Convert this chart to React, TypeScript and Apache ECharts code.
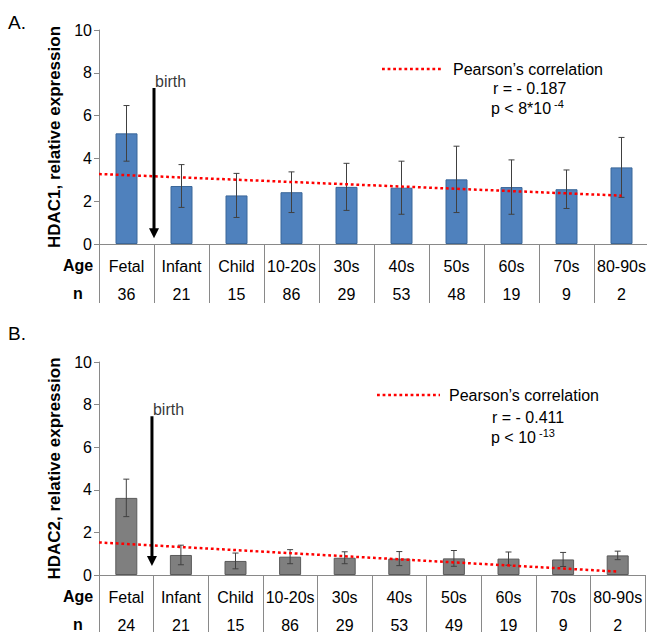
import React, { useEffect, useRef } from "react";
import * as echarts from "echarts";

const categories = ["Fetal", "Infant", "Child", "10-20s", "30s", "40s", "50s", "60s", "70s", "80-90s"];
const hdac1N = [36, 21, 15, 86, 29, 53, 48, 19, 9, 2];
const hdac2N = [24, 21, 15, 86, 29, 53, 49, 19, 9, 2];
const hdac1Mean = [5.17, 2.71, 2.27, 2.42, 2.67, 2.63, 3.02, 2.66, 2.56, 3.58];
const hdac1Err = [1.3, 1.0, 1.03, 0.95, 1.1, 1.24, 1.55, 1.27, 0.9, 1.4];
const hdac2Mean = [3.62, 0.94, 0.66, 0.86, 0.81, 0.77, 0.78, 0.77, 0.73, 0.92];
const hdac2Err = [0.88, 0.46, 0.37, 0.33, 0.28, 0.33, 0.37, 0.31, 0.33, 0.2];
const hdac1Trend = [[0, 3.27], [9.5, 2.26]];
const hdac2Trend = [[0, 1.53], [9.5, 0.16]];
const hdac1Birth = [[1, 7.29], [1, 0.5]];
const hdac2Birth = [[0.97, 7.45], [0.97, 0.66]];
const hdac1BirthLabel = [[1, 7.6]];
const hdac2BirthLabel = [[0.97, 7.75]];
const yMin = 0;
const yMax = 10;
const yInterval = 2;
const legendName = "Pearson\u2019s correlation";

const FONT = "'Liberation Sans', Arial, sans-serif";
const AXIS_GRAY = "#898989";

function errData(mean: number[], err: number[]) {
  return mean.map((m, i) => [i, m - err[i], m + err[i]]);
}

const renderErr = (params: any, api: any) => {
  const x = api.value(0);
  const lo = api.coord([x, api.value(1)]);
  const hi = api.coord([x, api.value(2)]);
  const w = 3;
  const st = { stroke: "#404040", lineWidth: 1 };
  return {
    type: "group",
    children: [
      { type: "line", shape: { x1: hi[0], y1: hi[1], x2: lo[0], y2: lo[1] }, style: st },
      { type: "line", shape: { x1: hi[0] - w, y1: hi[1], x2: hi[0] + w, y2: hi[1] }, style: st },
      { type: "line", shape: { x1: lo[0] - w, y1: lo[1], x2: lo[0] + w, y2: lo[1] }, style: st },
    ],
  };
};

function arrowData(pts: number[][]) {
  return [
    { value: pts[0], symbol: "none" },
    { value: pts[1], symbol: "triangle", symbolSize: [10, 10], symbolRotate: 180 },
  ];
}

function catAxis(gridIndex: number, nArr: number[]) {
  return {
    type: "category",
    gridIndex,
    data: categories,
    axisLine: { show: true, lineStyle: { color: AXIS_GRAY, width: 1 } },
    axisTick: { show: true, interval: 0, length: 59, lineStyle: { color: AXIS_GRAY, width: 1 } },
    axisLabel: {
      interval: 0,
      margin: 8,
      fontSize: 16,
      color: "#000",
      lineHeight: 28,
      fontFamily: FONT,
      formatter: (v: string, idx: number) => `${v}\n${nArr[idx]}`,
    },
    splitLine: { show: false },
  };
}

function valXAxis(gridIndex: number) {
  return { type: "value", gridIndex, min: 0, max: 10, show: false };
}

function yAxis(gridIndex: number, name: string) {
  return {
    type: "value",
    gridIndex,
    min: yMin,
    max: yMax,
    interval: yInterval,
    name,
    nameLocation: "middle",
    nameGap: 33,
    nameTextStyle: { fontSize: 17, fontWeight: "bold", color: "#000", fontFamily: FONT },
    axisLine: { show: true, lineStyle: { color: AXIS_GRAY, width: 1 } },
    axisTick: { show: true, length: 5, lineStyle: { color: AXIS_GRAY } },
    axisLabel: { fontSize: 16, color: "#000", margin: 7, fontFamily: FONT },
    splitLine: { show: false },
  };
}

const dotted = { stroke: "#FF0000", lineWidth: 2.5, lineDash: [2.8, 2.8] };

function textEl(x: number, y: number, text: string, extra: any = {}) {
  return {
    type: "text",
    x,
    y,
    style: {
      text,
      fontSize: 16,
      fontFamily: FONT,
      fill: "#000",
      verticalAlign: "middle",
      textAlign: "left",
      ...extra,
    },
  };
}

function supText(x: number, y: number, main: string, sup: string) {
  return {
    type: "text",
    x,
    y,
    style: {
      text: `{a|${main}}{s|${sup}}`,
      fontFamily: FONT,
      fill: "#000",
      verticalAlign: "middle",
      textAlign: "left",
      rich: {
        a: { fontSize: 16, lineHeight: 20, fontFamily: FONT, fill: "#000" },
        s: { fontSize: 11, lineHeight: 11, verticalAlign: "top", fontFamily: FONT, fill: "#000" },
      },
    },
  };
}

export default function App() {
  const ref = useRef<HTMLDivElement>(null);
  useEffect(() => {
    if (!ref.current) return;
    const chart = echarts.init(ref.current, null, { renderer: "svg" });
    const lineSeries = (name: string, xi: number, yi: number, data: any, color: string, lineStyle: any) => ({
      type: "line",
      name,
      xAxisIndex: xi,
      yAxisIndex: yi,
      data,
      symbol: "none",
      lineStyle,
      itemStyle: { color },
      silent: true,
      z: 5,
    });
    const option: any = {
      animation: false,
      backgroundColor: "#fff",
      textStyle: { fontFamily: FONT },
      grid: [
        { left: 99, width: 550, top: 30, height: 214, outerBoundsMode: "none", containLabel: false },
        { left: 99, width: 546, top: 362, height: 213, outerBoundsMode: "none", containLabel: false },
      ],
      xAxis: [catAxis(0, hdac1N), catAxis(1, hdac2N), valXAxis(0), valXAxis(1)],
      yAxis: [yAxis(0, "HDAC1, relative expression"), yAxis(1, "HDAC2, relative expression")],
      series: [
        {
          type: "bar",
          name: "HDAC1",
          xAxisIndex: 0,
          yAxisIndex: 0,
          data: hdac1Mean,
          barWidth: 22,
          itemStyle: { color: "#4F81BD", borderColor: "#3B6799", borderWidth: 1 },
        },
        {
          type: "custom",
          name: "HDAC1 err",
          xAxisIndex: 0,
          yAxisIndex: 0,
          data: errData(hdac1Mean, hdac1Err),
          renderItem: renderErr,
          z: 4,
        },
        {
          type: "bar",
          name: "HDAC2",
          xAxisIndex: 1,
          yAxisIndex: 1,
          data: hdac2Mean,
          barWidth: 22,
          itemStyle: { color: "#7F7F7F", borderColor: "#5A5A5A", borderWidth: 1 },
        },
        {
          type: "custom",
          name: "HDAC2 err",
          xAxisIndex: 1,
          yAxisIndex: 1,
          data: errData(hdac2Mean, hdac2Err),
          renderItem: renderErr,
          z: 4,
        },
        lineSeries(legendName, 2, 0, hdac1Trend, "#FF0000", { color: "#FF0000", width: 2.5, type: [2.8, 2.8] }),
        lineSeries(legendName, 3, 1, hdac2Trend, "#FF0000", { color: "#FF0000", width: 2.5, type: [2.8, 2.8] }),
        {
          ...lineSeries("birth1", 2, 0, arrowData(hdac1Birth), "#000", { color: "#000", width: 3, type: "solid" }),
          showSymbol: true,
        },
        {
          ...lineSeries("birth2", 3, 1, arrowData(hdac2Birth), "#000", { color: "#000", width: 3, type: "solid" }),
          showSymbol: true,
        },
        {
          type: "scatter",
          xAxisIndex: 2,
          yAxisIndex: 0,
          data: hdac1BirthLabel,
          symbolSize: 0,
          silent: true,
          label: { show: true, position: "right", distance: 1, formatter: "birth", fontSize: 16, color: "#000", fontFamily: FONT },
        },
        {
          type: "scatter",
          xAxisIndex: 3,
          yAxisIndex: 1,
          data: hdac2BirthLabel,
          symbolSize: 0,
          silent: true,
          label: { show: true, position: "right", distance: 1, formatter: "birth", fontSize: 16, color: "#000", fontFamily: FONT },
        },
      ],
      graphic: [
        textEl(8, 22, "A.", { fontSize: 19 }),
        textEl(8, 333, "B.", { fontSize: 19 }),
        textEl(78, 265.5, "Age", { fontWeight: "bold", textAlign: "center" }),
        textEl(78, 293, "n", { fontWeight: "bold", textAlign: "center" }),
        textEl(78, 596, "Age", { fontWeight: "bold", textAlign: "center" }),
        textEl(78, 624, "n", { fontWeight: "bold", textAlign: "center" }),
        { type: "line", shape: { x1: 382, y1: 69, x2: 443, y2: 69 }, style: dotted },
        textEl(453, 69, legendName),
        textEl(493, 88, "r = - 0.187"),
        supText(491, 108.5, "p < 8*10", " -4"),
        { type: "line", shape: { x1: 377, y1: 395, x2: 440, y2: 395 }, style: dotted },
        textEl(449, 395, legendName),
        textEl(492, 417, "r = - 0.411"),
        supText(491, 437, "p < 10", " -13"),
      ],
    };
    chart.setOption(option);
    return () => chart.dispose();
  }, []);
  return (
    <div
      ref={ref}
      style={{ position: "fixed", left: 0, top: 0, width: 647, height: 632, background: "#fff" }}
    />
  );
}
